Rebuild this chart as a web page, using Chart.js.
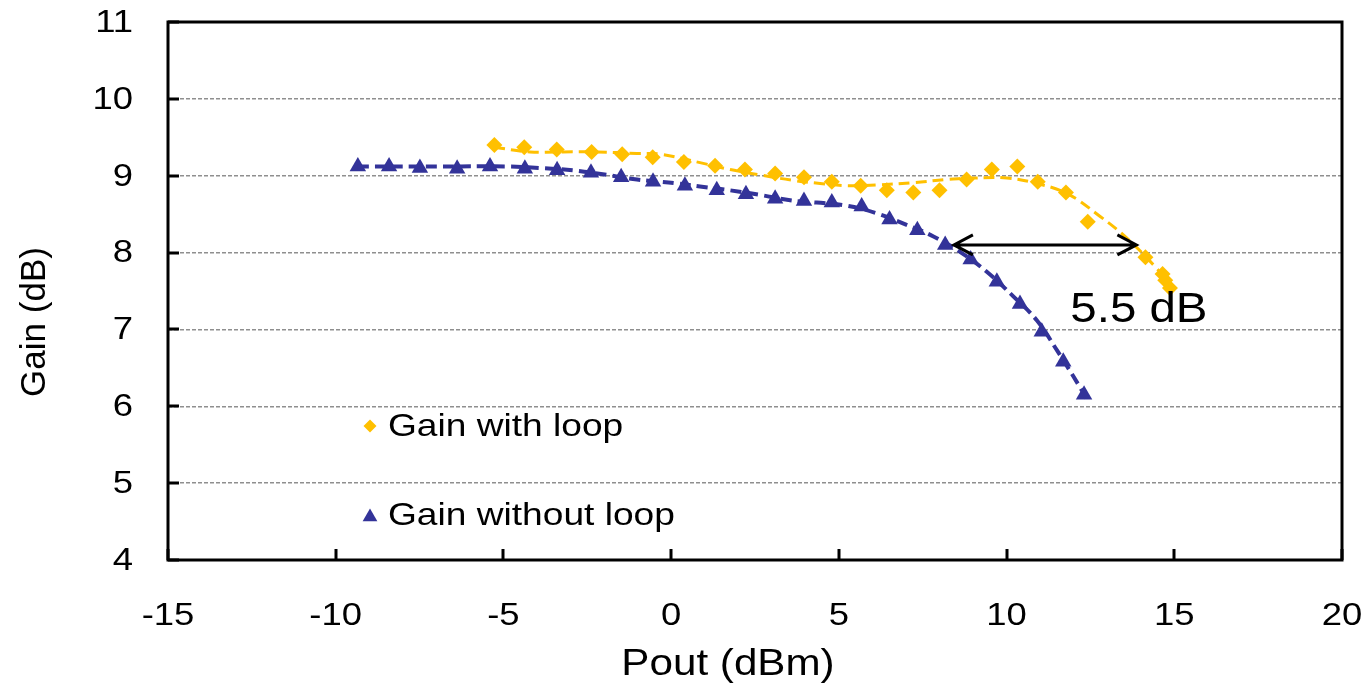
<!DOCTYPE html>
<html>
<head>
<meta charset="utf-8">
<title>Gain vs Pout</title>
<script src="https://cdn.jsdelivr.net/npm/chart.js@4.4.1/dist/chart.umd.min.js"></script>
<style>
  html, body { margin: 0; padding: 0; background: #fff; }
  #gainChart { display: block; }
</style>
</head>
<body>
<canvas id="gainChart" width="1366" height="691"></canvas>
<script>
// measured points: output power (dBm) and gain (dB)
var poutLoop = [-5.27, -4.38, -3.41, -2.37, -1.46, -0.55, 0.38, 1.31, 2.20, 3.10, 3.96, 4.79, 5.65,
  6.43, 7.22, 8.00, 8.81, 9.56, 10.32, 10.93, 11.77, 12.42, 14.14, 14.65, 14.73, 14.87];
var gainLoop = [9.40, 9.37, 9.34, 9.31, 9.28, 9.24, 9.18, 9.13, 9.08, 9.03, 8.98, 8.92, 8.87,
  8.81, 8.78, 8.81, 8.95, 9.08, 9.12, 8.92, 8.78, 8.40, 7.94, 7.72, 7.64, 7.54];

var poutNoLoop = [-9.34, -8.41, -7.49, -6.38, -5.40, -4.36, -3.40, -2.39, -1.49, -0.54, 0.41, 1.36, 2.23,
  3.10, 3.96, 4.79, 5.68, 6.51, 7.34, 8.17, 8.93, 9.71, 10.40, 11.05, 11.69, 12.31];
var gainNoLoop = [9.12, 9.12, 9.10, 9.09, 9.12, 9.09, 9.07, 9.04, 8.98, 8.92, 8.87, 8.81, 8.76,
  8.70, 8.67, 8.65, 8.60, 8.43, 8.29, 8.10, 7.91, 7.62, 7.33, 6.97, 6.58, 6.15];

// dashed trend curves
var trendLoopX = [-5.28, -4.21, -3.22, -2.21, -1.02, -0.33, 0.86, 1.76, 2.65, 3.63, 4.44, 5.24,
  6.13, 7.22, 8.22, 9.01, 10.01, 10.80, 11.79, 12.79, 13.58, 14.38, 14.97];
var trendLoopY = [9.37, 9.31, 9.31, 9.31, 9.29, 9.28, 9.17, 9.08, 9.01, 8.94, 8.90, 8.87,
  8.88, 8.91, 8.95, 8.97, 8.97, 8.91, 8.77, 8.47, 8.19, 7.84, 7.55];

var trendNoLoopX = [-9.34, -6.98, -4.89, -3.91, -2.92, -1.91, -1.02, 0.18, 0.86, 1.76, 2.65, 3.55,
  4.34, 5.24, 6.13, 7.02, 7.82, 8.61, 9.41, 10.20, 10.90, 11.50, 11.99, 12.39];
var trendNoLoopY = [9.12, 9.12, 9.12, 9.10, 9.07, 9.01, 8.95, 8.90, 8.86, 8.81, 8.75, 8.68,
  8.65, 8.61, 8.51, 8.36, 8.21, 8.01, 7.75, 7.43, 7.12, 6.73, 6.39, 6.10];

var xTicks = [-15, -10, -5, 0, 5, 10, 15, 20];
var yTicks = [4, 5, 6, 7, 8, 9, 10, 11];

var seriesNames = ["Gain with loop", "Gain without loop"];
var xTitle = "Pout (dBm)";
var yTitle = "Gain (dB)";

// 5.5 dB compression gap, drawn at 8.1 dB
var arrowGain = 8.1;
var arrowFrom = 8.4;
var arrowSpan = 5.5;
var arrowLabel = "5.5 dB";

var FONT = "'Liberation Sans', Arial, sans-serif";
var YELLOW = "#FFC000";
var BLUE = "#333399";
var CLEAR = "rgba(0,0,0,0)";
var WIDE = 1.14; // horizontal text stretch

function pairs(xs, ys) {
  return xs.map(function (x, i) { return { x: x, y: ys[i] }; });
}

// text in this chart is a bit wider than plain Arial
function wideText(ctx, text, x, y, sx, rot) {
  ctx.save();
  ctx.translate(x, y);
  if (rot) ctx.rotate(rot);
  ctx.scale(sx, 1);
  ctx.fillText(text, 0, 0);
  ctx.restore();
}

var framePlugin = {
  id: "frame",
  afterDraw: function (chart) {
    var ctx = chart.ctx;
    var a = chart.chartArea;
    var xs = chart.scales.x, ys = chart.scales.y;
    ctx.save();
    ctx.strokeStyle = "#000";
    ctx.lineWidth = 3;
    ctx.lineJoin = "miter";
    ctx.strokeRect(a.left, a.top, a.right - a.left, a.bottom - a.top);
    // inward tick marks
    ctx.beginPath();
    xs.ticks.forEach(function (t) {
      var px = Math.round(xs.getPixelForValue(t.value));
      ctx.moveTo(px, a.bottom);
      ctx.lineTo(px, a.bottom - 11);
    });
    ys.ticks.forEach(function (t) {
      var py = Math.round(ys.getPixelForValue(t.value));
      ctx.moveTo(a.left, py);
      ctx.lineTo(a.left + 11, py);
    });
    ctx.stroke();

    // tick labels
    ctx.fillStyle = "#000";
    ctx.font = "32px " + FONT;
    ctx.textBaseline = "middle";
    ctx.textAlign = "center";
    xs.ticks.forEach(function (t) {
      wideText(ctx, String(t.value), xs.getPixelForValue(t.value), a.bottom + 56, WIDE);
    });
    ctx.textAlign = "right";
    ys.ticks.forEach(function (t) {
      wideText(ctx, String(t.value), a.left - 35, ys.getPixelForValue(t.value) + 1, WIDE);
    });

    // arrow
    var y = ys.getPixelForValue(arrowGain);
    var x1 = xs.getPixelForValue(arrowFrom);
    var x2 = xs.getPixelForValue(arrowFrom + arrowSpan);
    ctx.lineWidth = 3;
    ctx.lineCap = "butt";
    ctx.beginPath();
    ctx.moveTo(x1 + 2, y);
    ctx.lineTo(x2 - 2, y);
    ctx.moveTo(x1 + 20, y - 10);
    ctx.lineTo(x1 + 1, y);
    ctx.lineTo(x1 + 20, y + 10);
    ctx.moveTo(x2 - 20, y - 10);
    ctx.lineTo(x2 - 1, y);
    ctx.lineTo(x2 - 20, y + 10);
    ctx.stroke();

    ctx.font = "42px " + FONT;
    ctx.textBaseline = "alphabetic";
    ctx.textAlign = "left";
    wideText(ctx, arrowLabel, xs.getPixelForValue(11.9), ys.getPixelForValue(7.1), 1.13);

    // axis titles
    ctx.font = "37px " + FONT;
    ctx.textAlign = "center";
    ctx.textBaseline = "middle";
    wideText(ctx, xTitle, a.left + 560, a.bottom + 105, WIDE);
    ctx.font = "35px " + FONT;
    wideText(ctx, yTitle, 35, a.top + 300, 1, -Math.PI / 2);

    // legend inside the plot
    var lx = a.left + 202;
    var rows = [
      { y: a.top + 404, style: "rectRot", r: 6.5, color: YELLOW },
      { y: a.top + 493, style: "triangle", r: 8.5, color: BLUE }
    ];
    ctx.font = "32px " + FONT;
    ctx.textAlign = "left";
    rows.forEach(function (row, i) {
      ctx.fillStyle = row.color;
      Chart.helpers.drawPoint(ctx, { pointStyle: row.style, radius: row.r, rotation: 0, borderWidth: 0 }, lx, row.y + (row.style === "triangle" ? 2 : 0));
      ctx.fillStyle = "#000";
      wideText(ctx, seriesNames[i], lx + 18, row.y + 1, 1.16);
    });
    ctx.restore();
  }
};

new Chart("gainChart", {
  type: "scatter",
  data: {
    datasets: [
      {
        label: seriesNames[0] + " trend",
        data: pairs(trendLoopX, trendLoopY),
        showLine: true,
        pointRadius: 0,
        borderColor: YELLOW,
        borderWidth: 3,
        borderDash: [11, 6],
        tension: 0.4,
        fill: false
      },
      {
        label: seriesNames[1] + " trend",
        data: pairs(trendNoLoopX, trendNoLoopY),
        showLine: true,
        pointRadius: 0,
        borderColor: BLUE,
        borderWidth: 4,
        borderDash: [11, 6],
        tension: 0.4,
        fill: false
      },
      {
        label: seriesNames[0],
        data: pairs(poutLoop, gainLoop),
        pointStyle: "rectRot",
        pointRadius: 8,
        pointBackgroundColor: YELLOW,
        pointBorderWidth: 0,
        borderColor: YELLOW
      },
      {
        label: seriesNames[1],
        data: pairs(poutNoLoop, gainNoLoop),
        pointStyle: "triangle",
        pointRadius: 9.5,
        pointBackgroundColor: BLUE,
        pointBorderWidth: 0,
        borderColor: BLUE
      }
    ]
  },
  options: {
    responsive: false,
    animation: false,
    devicePixelRatio: 1,
    layout: { padding: { top: 22, right: 24, left: 0, bottom: 0 } },
    plugins: {
      legend: { display: false },
      tooltip: { enabled: false }
    },
    scales: {
      x: {
        type: "linear",
        min: -15,
        max: 20,
        afterBuildTicks: function (axis) {
          axis.ticks = xTicks.map(function (v) { return { value: v }; });
        },
        afterFit: function (axis) { axis.height = 131; },
        grid: { display: false },
        border: { display: false },
        ticks: { display: false }
      },
      y: {
        type: "linear",
        min: 4,
        max: 11,
        afterBuildTicks: function (axis) {
          axis.ticks = yTicks.map(function (v) { return { value: v }; });
        },
        afterFit: function (axis) { axis.width = 168; },
        grid: {
          drawTicks: false,
          lineWidth: 1.5,
          color: function (c) {
            var v = c.tick ? c.tick.value : 0;
            return (v > 4 && v < 11) ? "#8f8f8f" : CLEAR;
          }
        },
        border: { display: false, dash: [4, 2] },
        ticks: { display: false }
      }
    }
  },
  plugins: [framePlugin]
});
</script>
</body>
</html>
